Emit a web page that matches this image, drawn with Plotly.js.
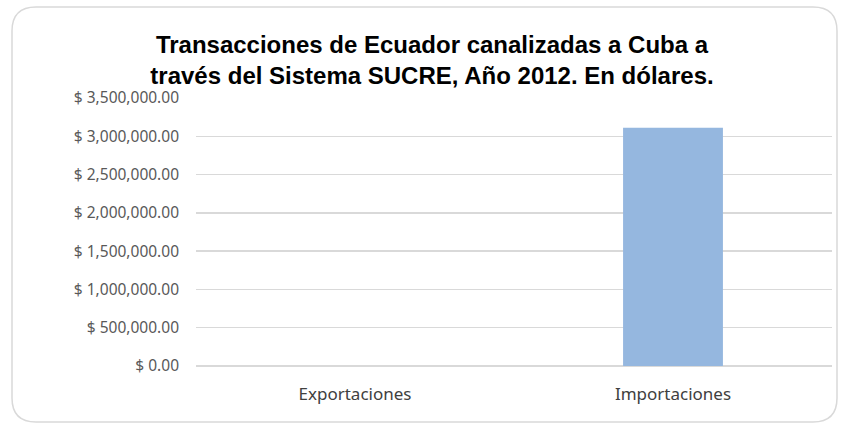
<!DOCTYPE html>
<html>
<head>
<meta charset="utf-8">
<script src="https://cdn.plot.ly/plotly-3.0.1.min.js"></script>
<style>html,body{margin:0;padding:0;background:#fff;}#chart{width:841px;height:425px;}</style>
</head>
<body>
<div id="chart"></div>
<script>
const categories = ["Exportaciones", "Importaciones"];
const values = [0, 3110000];
const tickValues = [0, 500000, 1000000, 1500000, 2000000, 2500000, 3000000, 3500000];
const tickLabels = ["$ 0.00", "$ 500,000.00", "$ 1,000,000.00", "$ 1,500,000.00", "$ 2,000,000.00", "$ 2,500,000.00", "$ 3,000,000.00", "$ 3,500,000.00"];
const titleText = "Transacciones de Ecuador canalizadas a Cuba a<br>través del Sistema SUCRE, Año 2012. En dólares.";

const W = 841, H = 425;
const L = 196, R = 832, T = 98, B = 366;
const px = x => (x - L) / (R - L);
const py = y => (B - y) / (B - T);

// rounded border path in paper coords
const x0 = 12, x1 = 837, y0 = 7, y1 = 422, rad = 24;
function p(x, y) { return px(x) + "," + py(y); }
const path = "M" + p(x0 + rad, y0) + " L" + p(x1 - rad, y0) +
  " Q" + p(x1, y0) + " " + p(x1, y0 + rad) +
  " L" + p(x1, y1 - rad) + " Q" + p(x1, y1) + " " + p(x1 - rad, y1) +
  " L" + p(x0 + rad, y1) + " Q" + p(x0, y1) + " " + p(x0, y1 - rad) +
  " L" + p(x0, y0 + rad) + " Q" + p(x0, y0) + " " + p(x0 + rad, y0) + " Z";

const data = [{
  type: "bar",
  x: categories,
  y: values,
  marker: { color: "#95B7DF" },
  hoverinfo: "x+y"
}];

const layout = {
  width: W, height: H,
  margin: { l: L, r: W - R, t: T, b: H - B, pad: 0 },
  paper_bgcolor: "#ffffff",
  plot_bgcolor: "#ffffff",
  showlegend: false,
  bargap: 0.686,
  title: {
    text: "<b>" + titleText + "</b>",
    font: { family: "Liberation Sans, Arial, sans-serif", size: 24, color: "#000000" },
    xref: "container", yref: "container",
    x: 432 / W, xanchor: "center",
    y: 1 - 53 / H, yanchor: "middle"
  },
  xaxis: {
    type: "category",
    showgrid: false,
    zeroline: false,
    showline: false,
    ticks: "",
    tickfont: { family: "Noto Sans, sans-serif", size: 17, color: "#404040" },
    ticklabelstandoff: 16
  },
  yaxis: {
    range: [0, 3500000],
    tickmode: "array",
    tickvals: tickValues,
    ticktext: tickLabels,
    showgrid: true,
    gridcolor: "#D9D9D9",
    gridwidth: 1.5,
    zeroline: true,
    zerolinecolor: "#D9D9D9",
    zerolinewidth: 1.5,
    showline: false,
    ticks: "",
    tickfont: { family: "Noto Sans, sans-serif", size: 15.5, color: "#595959" },
    ticklabelstandoff: 16
  },
  shapes: [{
    type: "path",
    xref: "paper", yref: "paper",
    path: path,
    line: { color: "#D9D9D9", width: 1.5 },
    fillcolor: "rgba(0,0,0,0)",
    layer: "below"
  }]
};

Plotly.newPlot("chart", data, layout, { displayModeBar: false, staticPlot: true });
</script>
</body>
</html>
